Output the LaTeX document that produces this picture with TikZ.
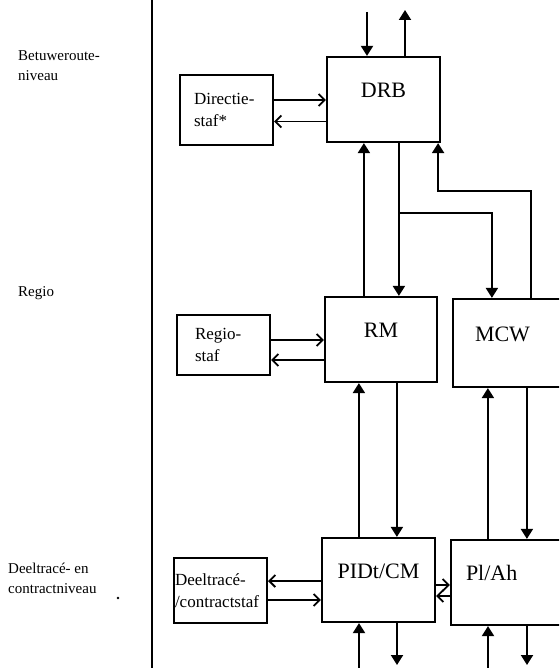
\documentclass[tikz,border=0pt]{standalone}
\usepackage{fontspec}
\setmainfont{Liberation Serif}
\usetikzlibrary{arrows.meta,calc}

\tikzset{
  unit/.style={draw, line width=2.2pt, text height=11pt, text depth=15pt,
    font=\fontsize{22}{24}\selectfont},
  staf/.style={draw, line width=2pt, align=left, inner ysep=2pt,
    font=\fontsize{17}{22}\selectfont},
  lvl/.style={align=left, anchor=north west, inner sep=0pt,
    font=\fontsize{15}{20}\selectfont},
  flow/.style={line width=2pt, -{Triangle[length=10pt,width=12pt]}},
  side/.style={line width=1.8pt, -{Straight Barb[length=6pt,width=12pt]}},
}

\begin{document}
\begin{tikzpicture}[x=1pt,y=-1pt]
  \useasboundingbox (0,0) rectangle (559,668);
  \clip (0,0) rectangle (559,668);

  % levels
  \draw[line width=1.6pt] (152,0) -- (152,668);
  \node[lvl] (nbetuwe) at (18,50) {Betuweroute-\\niveau};
  \node[lvl] (nregio) at (18,286) {Regio};
  \node[lvl] (ndeel) at (8,563) {Deeltracé- en\\contractniveau};
  \fill (118,598) circle (1.4);

  % units
  \node[unit, minimum width=113pt, minimum height=85pt] (drb) at (383.5,99.5) {DRB};
  \node[unit, minimum width=112pt, minimum height=85pt] (rm) at (381,339.5) {RM};
  \node[unit, minimum width=124pt, minimum height=88pt, align=left,
    text width=80pt, inner xsep=22pt] (mcw) at (515,343) {MCW};
  \node[unit, minimum width=113pt, minimum height=84pt] (pidt) at (378.5,580) {PIDt/CM};
  \node[unit, minimum width=124pt, minimum height=85pt, align=left,
    text width=94pt, inner xsep=15pt] (plah) at (513,582.5) {Pl/Ah};

  % staffs
  \node[staf, minimum width=93pt, minimum height=70pt, text width=65pt,
    inner xsep=14pt] (dirstaf) at (226.5,110) {Directie-\\staf*};
  \node[staf, minimum width=93pt, minimum height=60pt, text width=57pt,
    inner xsep=18pt] (regiostaf) at (223.5,345) {Regio-\\staf};
  \node[staf, minimum width=93pt, minimum height=65pt, text width=91pt,
    inner xsep=1pt] (deelstaf) at (220.5,590.5) {Deeltracé-\\/contractstaf};

  % top
  \coordinate (in1) at (367,12);
  \coordinate (out1) at (405,10);
  \draw[flow] (in1) -- (in1 |- drb.north);
  \draw[flow] (out1 |- drb.north) -- (out1);

  % DRB - directiestaf
  \draw[side] ($(dirstaf.east)+(0,-10)$) coordinate (d1) -- (d1 -| drb.west);
  \draw[side] ($(drb.west)+(0,22)$) coordinate (d2) -- (d2 -| dirstaf.east);

  % DRB - RM / MCW
  \draw[flow] ($(rm.north west)+(40,0)$) coordinate (r1) -- (r1 |- drb.south);
  \draw[flow] ($(drb.south west)+(73,0)$) coordinate (r2) -- (r2 |- rm.north);
  \draw[flow] ($(r2)+(0,70)$) -| ($(mcw.north west)+(40,0)$);
  \draw[flow] ($(mcw.north west)+(79,0)$) |- ($(drb.south east)+(-3,48)$)
    -- ($(drb.south east)+(-3,0)$);

  % RM - regiostaf
  \draw[side] ($(regiostaf.east)+(0,-5)$) coordinate (s1) -- (s1 -| rm.west);
  \draw[side] ($(rm.west)+(0,20.5)$) coordinate (s2) -- (s2 -| regiostaf.east);

  % RM - PIDt/CM, MCW - Pl/Ah
  \draw[flow] ($(pidt.north west)+(38,0)$) coordinate (p1) -- (p1 |- rm.south);
  \draw[flow] ($(rm.south west)+(73,0)$) coordinate (p2) -- (p2 |- pidt.north);
  \draw[flow] ($(plah.north west)+(38,0)$) coordinate (q1) -- (q1 |- mcw.south);
  \draw[flow] ($(mcw.south west)+(75,0)$) coordinate (q2) -- (q2 |- plah.north);

  % PIDt/CM - Pl/Ah
  \draw[side] ($(pidt.east)+(0,5)$) coordinate (h1) -- (h1 -| plah.west);
  \draw[side] ($(plah.west)+(0,13.5)$) coordinate (h2) -- (h2 -| pidt.east);

  % PIDt/CM - deeltracestaf
  \draw[side] ($(pidt.west)+(0,1)$) coordinate (e1) -- (e1 -| deelstaf.east);
  \draw[side] ($(deelstaf.east)+(0,9.5)$) coordinate (e2) -- (e2 -| pidt.west);

  % bottom
  \coordinate (b1) at (359,668);
  \coordinate (b2) at (397,665);
  \coordinate (b3) at (488,668);
  \coordinate (b4) at (527,665);
  \draw[flow] (b1) -- (b1 |- pidt.south);
  \draw[flow] (b2 |- pidt.south) -- (b2);
  \draw[flow] (b3) -- (b3 |- plah.south);
  \draw[flow] (b4 |- plah.south) -- (b4);
\end{tikzpicture}
\end{document}
